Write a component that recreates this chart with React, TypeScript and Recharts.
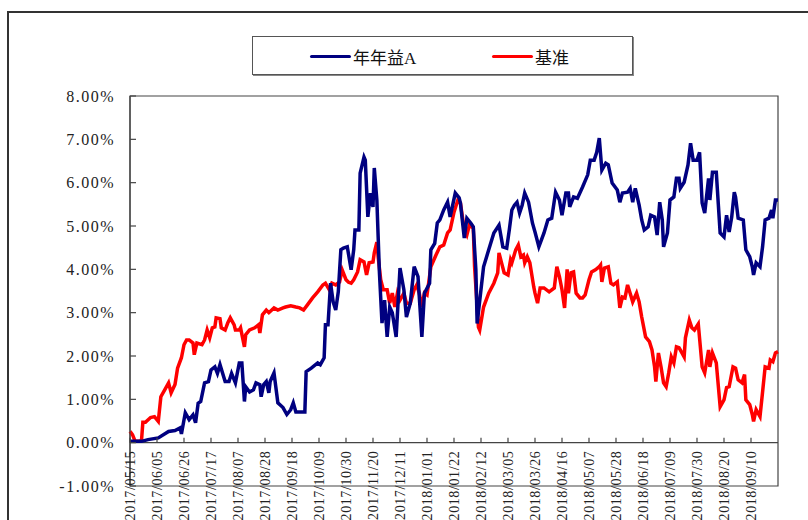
import { LineChart, Line, XAxis, YAxis, ReferenceArea, ReferenceLine } from 'recharts'

// x = days since 2017/05/15, y = cumulative return in %
const tickDates = [
  '2017/05/15', '2017/06/05', '2017/06/26', '2017/07/17', '2017/08/07', '2017/08/28',
  '2017/09/18', '2017/10/09', '2017/10/30', '2017/11/20', '2017/12/11', '2018/01/01',
  '2018/01/22', '2018/02/12', '2018/03/05', '2018/03/26', '2018/04/16', '2018/05/07',
  '2018/05/28', '2018/06/18', '2018/07/09', '2018/07/30', '2018/08/20', '2018/09/10',
]

const yTicks = [-1, 0, 1, 2, 3, 4, 5, 6, 7, 8]

const fundA: [number, number][] = [
  [0, 0.03], [9, 0.03], [14, 0.07], [22, 0.11], [30, 0.26], [35, 0.28], [39, 0.34], [40, 0.2],
  [43, 0.69], [46, 0.53], [49, 0.64], [51, 0.46], [53, 0.91], [55, 0.95], [58, 1.38], [61, 1.41],
  [63, 1.68], [66, 1.75], [68, 1.6], [70, 1.8], [74, 1.41], [77, 1.41], [79, 1.6], [82, 1.38],
  [85, 1.84], [87, 1.84], [89, 0.95], [90, 1.29], [93, 1.17], [96, 1.22], [98, 1.38], [101, 1.34],
  [102, 1.06], [104, 1.34], [106, 1.41], [108, 1.15], [109, 1.41], [112, 1.61], [115, 0.92], [119, 0.81],
  [122, 0.65], [125, 0.76], [127, 0.92], [129, 0.71], [132, 0.71], [136, 0.71], [137, 1.64], [141, 1.72],
  [146, 1.84], [148, 1.8], [151, 1.96], [152, 2.72], [154, 2.72], [156, 3.68], [158, 3.25], [160, 3.06],
  [162, 3.48], [164, 4.45], [166, 4.49], [169, 4.52], [172, 3.99], [174, 4.45], [175, 4.91], [178, 4.91],
  [179, 6.22], [182, 6.59], [183, 6.52], [185, 5.21], [187, 5.76], [189, 5.44], [190, 6.34], [192, 5.6],
  [194, 3.92], [196, 2.76], [198, 3.29], [200, 2.44], [202, 3.13], [204, 3.0], [207, 2.44], [210, 4.03],
  [213, 3.53], [215, 2.9], [218, 3.22], [221, 4.06], [224, 3.83], [227, 2.44], [229, 3.45], [233, 3.68],
  [234, 4.45], [237, 4.6], [239, 5.07], [241, 5.14], [244, 5.37], [247, 5.55], [249, 5.21], [253, 5.76],
  [256, 5.65], [257, 5.53], [260, 4.72], [262, 5.18], [265, 5.07], [267, 4.98], [269, 3.99], [270, 2.75],
  [275, 4.06], [279, 4.45], [283, 4.84], [287, 5.02], [290, 4.52], [293, 4.49], [295, 4.91], [297, 5.37],
  [299, 5.48], [301, 5.55], [303, 5.3], [305, 5.48], [307, 5.76], [310, 5.55], [313, 5.07], [315, 4.86],
  [318, 4.52], [320, 4.68], [322, 4.84], [325, 5.14], [328, 5.18], [331, 5.78], [334, 5.6], [336, 5.25],
  [339, 5.76], [341, 5.76], [342, 5.44], [345, 5.67], [348, 5.64], [352, 5.9], [356, 6.18], [358, 6.52],
  [361, 6.52], [363, 6.7], [365, 7.03], [367, 6.29], [370, 6.45], [372, 6.41], [375, 5.99], [379, 5.83],
  [381, 5.55], [383, 5.76], [387, 5.78], [389, 5.87], [391, 5.55], [393, 5.87], [396, 5.48], [398, 5.14],
  [400, 4.91], [403, 4.98], [405, 5.25], [408, 5.21], [410, 4.79], [412, 5.55], [414, 5.14], [415, 4.52],
  [418, 4.84], [420, 5.6], [423, 5.67], [425, 6.1], [427, 6.1], [428, 5.87], [431, 6.01], [434, 6.41],
  [436, 6.91], [438, 6.52], [441, 6.52], [443, 6.7], [445, 5.53], [447, 5.3], [450, 6.1], [451, 5.6],
  [453, 6.24], [456, 6.24], [459, 4.84], [462, 4.75], [464, 5.25], [466, 4.86], [468, 5.21], [470, 5.78],
  [471, 5.67], [473, 5.18], [477, 5.14], [479, 4.45], [482, 4.29], [484, 4.06], [485, 3.87], [487, 4.15],
  [490, 4.06], [492, 4.52], [494, 5.14], [497, 5.18], [499, 5.37], [500, 5.18], [502, 5.6], [504, 5.6],
]

const benchmark: [number, number][] = [
  [0, 0.26], [2, 0.18], [4, 0.03], [8, 0.03], [9, 0.07], [10, 0.47], [12, 0.47], [16, 0.58],
  [19, 0.6], [22, 0.49], [24, 1.06], [27, 1.22], [30, 1.38], [32, 1.15], [35, 1.34], [37, 1.72],
  [40, 1.96], [42, 2.26], [44, 2.37], [46, 2.37], [49, 2.3], [50, 2.03], [52, 2.3], [56, 2.26],
  [58, 2.37], [60, 2.6], [62, 2.42], [64, 2.65], [66, 2.67], [67, 2.88], [70, 2.86], [71, 2.65],
  [74, 2.6], [76, 2.76], [78, 2.88], [81, 2.72], [82, 2.6], [85, 2.6], [86, 2.65], [89, 2.21],
  [90, 2.49], [93, 2.6], [97, 2.65], [100, 2.72], [101, 2.53], [103, 2.95], [106, 3.06], [108, 3.0],
  [112, 3.11], [115, 3.06], [119, 3.11], [121, 3.13], [125, 3.16], [129, 3.13], [132, 3.11], [135, 3.06],
  [138, 3.18], [142, 3.34], [146, 3.48], [150, 3.64], [152, 3.68], [155, 3.53], [157, 3.68], [160, 3.64],
  [163, 3.71], [165, 3.99], [168, 3.76], [170, 3.7], [172, 3.68], [174, 3.76], [177, 3.94], [179, 4.22],
  [182, 4.17], [184, 3.87], [186, 4.15], [189, 4.17], [190, 4.38], [192, 4.63], [193, 4.29], [195, 3.76],
  [197, 3.53], [200, 3.53], [202, 3.22], [204, 3.45], [206, 3.13], [208, 3.45], [210, 3.29], [213, 3.45],
  [215, 3.22], [218, 3.22], [221, 3.53], [223, 3.64], [225, 3.45], [227, 3.13], [229, 3.45], [231, 3.41],
  [234, 4.06], [238, 4.33], [241, 4.52], [244, 4.56], [247, 4.84], [249, 4.91], [252, 5.32], [255, 5.6],
  [257, 5.53], [260, 4.91], [262, 4.79], [264, 5.02], [267, 4.95], [268, 4.06], [271, 2.67], [272, 2.6],
  [275, 3.13], [279, 3.45], [283, 3.68], [286, 3.92], [287, 4.38], [289, 4.15], [291, 3.92], [294, 3.87],
  [296, 4.22], [297, 4.15], [300, 4.45], [302, 4.56], [304, 4.29], [306, 4.33], [307, 4.15], [309, 4.29],
  [311, 4.15], [314, 3.6], [315, 3.45], [317, 3.22], [319, 3.57], [322, 3.57], [326, 3.48], [330, 3.57],
  [332, 4.06], [334, 3.83], [336, 3.53], [338, 3.11], [340, 4.0], [341, 3.45], [343, 3.92], [345, 3.94],
  [347, 3.45], [350, 3.34], [352, 3.34], [354, 3.41], [357, 3.76], [359, 3.94], [362, 3.99], [365, 4.06],
  [366, 4.1], [367, 3.71], [369, 4.03], [372, 4.06], [374, 3.68], [376, 3.64], [379, 3.71], [381, 3.11],
  [383, 3.36], [385, 3.34], [387, 3.64], [389, 3.45], [391, 3.25], [394, 3.45], [396, 3.25], [398, 2.9],
  [401, 2.44], [404, 2.33], [406, 2.14], [408, 1.75], [409, 1.41], [411, 2.07], [413, 1.75], [415, 1.38],
  [417, 1.29], [419, 1.61], [421, 1.98], [423, 1.84], [425, 2.21], [427, 2.19], [428, 2.14], [431, 1.98],
  [432, 2.42], [435, 2.83], [437, 2.65], [439, 2.6], [442, 2.74], [445, 1.75], [447, 1.61], [450, 2.14],
  [451, 1.75], [453, 2.07], [456, 1.84], [459, 0.83], [462, 0.99], [464, 1.27], [466, 1.29], [469, 1.75],
  [471, 1.72], [473, 1.45], [476, 1.38], [478, 1.57], [479, 0.99], [482, 0.88], [484, 0.65], [485, 0.49],
  [487, 0.76], [490, 0.6], [492, 1.17], [494, 1.75], [497, 1.72], [498, 1.91], [500, 1.87], [502, 2.07],
  [504, 2.1],
]

const START = Date.UTC(2017, 4, 15)
const dayOf = (s: string) => {
  const [y, m, d] = s.split('/').map(Number)
  return Math.round((Date.UTC(y, m - 1, d) - START) / 86400000)
}
const xTicks = tickDates.map(dayOf)
const labelByDay = new Map(xTicks.map((d, i) => [d, tickDates[i]]))

const toRows = (pts: [number, number][]) => pts.map(([d, v]) => ({ d, v }))

const FONT = '"Liberation Serif", "Noto Sans CJK SC", serif'
const PLOT_H = 390
// the x axis line sits at 0%, one ninth of the plot height above the bottom
const ZERO_UP = PLOT_H / 9

function XTick({ x, y, payload }: any) {
  const y0 = y - ZERO_UP
  return (
    <g>
      <line x1={x} x2={x} y1={y0} y2={y0 - 5} stroke="#444" strokeWidth={1.2} />
      <text
        transform={`translate(${x},${y0 + 8}) rotate(-90)`}
        textAnchor="end"
        dy="0.35em"
        fontSize={14}
        fill="#222"
        fontFamily={FONT}
        letterSpacing={0.6}
      >
        {labelByDay.get(payload.value)}
      </text>
    </g>
  )
}

function YTick({ x, y, payload }: any) {
  return (
    <g>
      <line x1={x} x2={x + 6} y1={y} y2={y} stroke="#444" strokeWidth={1.2} />
      <text
        x={x - 15}
        y={y}
        dy="0.35em"
        textAnchor="end"
        fontSize={16}
        fill="#222"
        fontFamily={FONT}
        letterSpacing={1.5}
      >
        {`${payload.value.toFixed(2)}%`}
      </text>
    </g>
  )
}

function LegendBox() {
  const item = (color: string, label: string, left: number) => (
    <div style={{ position: 'absolute', left, top: 0, height: 38, display: 'flex', alignItems: 'center' }}>
      <div style={{ width: 41, height: 3, background: color, borderRadius: 2 }} />
      <span style={{ fontSize: 17, color: '#111', fontFamily: FONT, marginLeft: 2 }}>{label}</span>
    </div>
  )
  return (
    <div
      style={{
        position: 'absolute',
        left: 252,
        top: 36,
        width: 379,
        height: 37,
        border: '1px solid #555',
        boxShadow: '1px 1px 0 #888',
        background: '#fff',
      }}
    >
      {item('#000080', '年年益A', 57)}
      {item('#ff0000', '基准', 239)}
    </div>
  )
}

export default function App() {
  return (
    <div style={{ position: 'absolute', left: 0, top: 0, width: 808, height: 520, overflow: 'hidden', background: '#fff' }}>
      <div
        style={{
          position: 'absolute',
          left: 7,
          top: 11,
          width: 900,
          height: 600,
          borderLeft: '2px solid #333',
          borderTop: '2px solid #333',
        }}
      />
      <div style={{ position: 'absolute', left: 0, top: 0 }}>
        <LineChart width={808} height={520} margin={{ top: 96, right: 30, bottom: 4, left: 70 }}>
          <XAxis
            type="number"
            dataKey="d"
            domain={[0, 504]}
            ticks={xTicks}
            interval={0}
            height={30}
            axisLine={false}
            tickLine={false}
            tickSize={0}
            tickMargin={0}
            tick={(p: any) => <XTick {...p} />}
          />
          <YAxis
            type="number"
            domain={[-1, 8]}
            ticks={yTicks}
            interval={0}
            width={60}
            axisLine={{ stroke: '#444', strokeWidth: 1.2 }}
            tickLine={false}
            tickSize={0}
            tickMargin={0}
            tick={(p: any) => <YTick {...p} />}
          />
          <ReferenceArea x1={0} x2={504} y1={-1} y2={8} fill="none" stroke="#444" strokeWidth={1.2} />
          <ReferenceLine y={0} stroke="#444" strokeWidth={1.2} />
          <Line
            data={toRows(benchmark)}
            dataKey="v"
            stroke="#ff0000"
            strokeWidth={3.5}
            dot={false}
            isAnimationActive={false}
          />
          <Line
            data={toRows(fundA)}
            dataKey="v"
            stroke="#000080"
            strokeWidth={3.5}
            dot={false}
            isAnimationActive={false}
          />
        </LineChart>
      </div>
      <LegendBox />
    </div>
  )
}
